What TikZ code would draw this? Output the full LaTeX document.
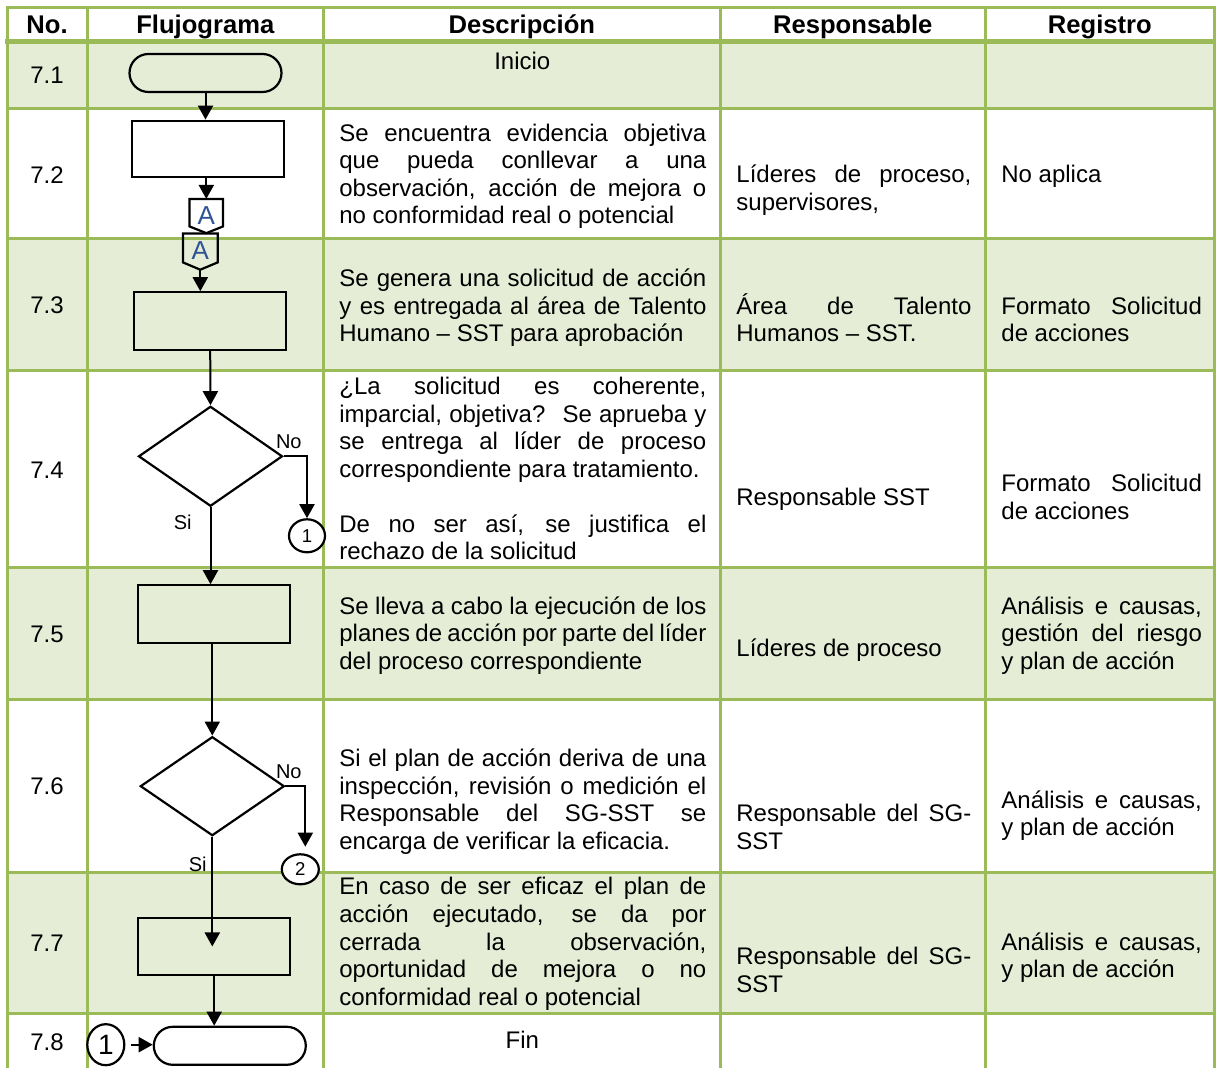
\documentclass[tikz,border=0pt]{standalone}
\usepackage{fontspec}
\setmainfont{Liberation Sans}
\usetikzlibrary{shapes.geometric,arrows.meta}
\definecolor{tabgreen}{RGB}{155,187,89}
\definecolor{rowgreen}{RGB}{229,237,214}
\definecolor{letterblue}{RGB}{47,84,150}
\newcommand\jl[2]{\makebox[#1][s]{#2}}
\newcommand\descw{183.5pt}
\newcommand\respw{117.5pt}
\newcommand\regw{100.25pt}
\begin{document}
\begin{tikzpicture}[x=0.5pt,y=-0.5pt,
	txt/.style={anchor=base west,align=left,inner sep=0pt,font=\fontsize{12}{13.75}\selectfont},
	ctr/.style={anchor=base,inner sep=0pt,font=\fontsize{12}{13.75}\selectfont},
	head/.style={anchor=base,inner sep=0pt,font=\fontsize{12.8}{15}\selectfont\bfseries},
	proc/.style={draw,rectangle,line width=1.1pt,inner sep=0pt,minimum width=76pt,minimum height=28.5pt},
	term/.style={draw,rectangle,rounded corners=9.5pt,line width=1.1pt,inner sep=0pt,minimum width=76pt,minimum height=19pt},
	dec/.style={draw,diamond,line width=1.1pt,inner sep=0pt,minimum width=72pt,minimum height=50pt},
	conn/.style={draw,ellipse,fill=white,line width=1.1pt,inner sep=0pt},
	offp/.style={rectangle,inner sep=0pt,text=letterblue,text height=12pt,text depth=0pt,font=\fontsize{13}{15}\selectfont},
	flow/.style={line width=1pt,-{Triangle[width=7.5pt,length=7pt]}},
	lbl/.style={anchor=base,inner sep=0pt,font=\fontsize{10}{12}\selectfont},
	grid/.style={tabgreen,line width=1.5pt,line cap=rect}]
\useasboundingbox (0,0) rectangle (1216,1068);
% tabla
\foreach \a/\b in {41.8/108.3,239/370.5,568/699.5,873/1013}
	\fill[rowgreen] (7,\a) rectangle (1214.5,\b);
\foreach \y in {8,108.3,239,370.5,568,699.5,873,1013}
	\draw[grid] (7,\y) -- (1214.5,\y);
\draw[grid,line width=2.5pt] (7,41.8) -- (1214.5,41.8);
\foreach \x in {7,87.3,323.3,720.3,985.3,1214.5}
	\draw[grid] (\x,8) -- (\x,1070);
\node[head] (hno) at (47,33.3) {No.};
\node[head] (hflujo) at (205.3,33.3) {Flujograma};
\node[head] (hdesc) at (521.8,33.3) {Descripción};
\node[head] (hresp) at (852.8,33.3) {Responsable};
\node[head] (hreg) at (1099.9,33.3) {Registro};
\foreach \n/\y [count=\i] in {7.1/84,7.2/183.3,7.3/313.5,7.4/478.5,7.5/642.5,7.6/794.5,7.7/951.5,7.8/1050.5}
	\node[ctr] (num\i) at (47,\y) {\n};
% descripcion (y = base de la ultima linea)
\node[ctr] (dinicio) at (522.3,70) {Inicio};
\node[txt] (desc2) at (339,224) {\jl\descw{Se encuentra evidencia objetiva}\\ \jl\descw{que pueda conllevar a una}\\ \jl\descw{observación, acción de mejora o}\\ no conformidad real o potencial};
\node[txt] (desc3) at (339,341.7) {\jl\descw{Se genera una solicitud de acción}\\ \jl\descw{y es entregada al área de Talento}\\ Humano – SST para aprobación};
\node[txt] (desc4) at (339,560) {\jl\descw{¿La solicitud es coherente,}\\ \jl\descw{imparcial, objetiva?~ Se aprueba y}\\ \jl\descw{se entrega al líder de proceso}\\ correspondiente para tratamiento.\\[13.75pt] \jl\descw{De no ser así, se justifica el}\\ rechazo de la solicitud};
\node[txt] (desc5) at (339,669.5) {\jl\descw{Se lleva a cabo la ejecución de los}\\ \jl\descw{planes de acción por parte del líder}\\ del proceso correspondiente};
\node[txt] (desc6) at (339,849.2) {\jl\descw{Si el plan de acción deriva de una}\\ \jl\descw{inspección, revisión o medición el}\\ \jl\descw{Responsable del SG-SST se}\\ encarga de verificar la eficacia.};
\node[txt] (desc7) at (339,1005) {\jl\descw{En caso de ser eficaz el plan de}\\ \jl\descw{acción ejecutado, se da por}\\ \jl\descw{cerrada la observación,}\\ \jl\descw{oportunidad de mejora o no}\\ conformidad real o potencial};
\node[ctr] (dfin) at (522.3,1048.3) {Fin};
% responsable
\node[txt] (resp2) at (736,210.2) {\jl\respw{Líderes de proceso,}\\ supervisores,};
\node[txt] (resp3) at (736,341.8) {\jl\respw{Área de Talento}\\ Humanos – SST.};
\node[txt] (resp4) at (736,505.3) {Responsable SST};
\node[txt] (resp5) at (736,656.3) {Líderes de proceso};
\node[txt] (resp6) at (736,849.2) {\jl\respw{Responsable del SG-}\\ SST};
\node[txt] (resp7) at (736,992.2) {\jl\respw{Responsable del SG-}\\ SST};
% registro
\node[txt] (reg2) at (1001,182.7) {No aplica};
\node[txt] (reg3) at (1001,341.8) {\jl\regw{Formato Solicitud}\\ de acciones};
\node[txt] (reg4) at (1001,519.5) {\jl\regw{Formato Solicitud}\\ de acciones};
\node[txt] (reg5) at (1001,669.5) {\jl\regw{Análisis e causas,}\\ \jl\regw{gestión del riesgo}\\ y plan de acción};
\node[txt] (reg6) at (1001,835.8) {\jl\regw{Análisis e causas,}\\ y plan de acción};
\node[txt] (reg7) at (1001,978) {\jl\regw{Análisis e causas,}\\ y plan de acción};
% flujograma
\node[term] (ini) at (205.5,73) {};
\node[proc,minimum height=28pt] (p72) at (208.2,148.7) {};
\node[offp,minimum width=16.35pt,minimum height=13.35pt] (a72) at (206.3,212.7) {A};
\node[offp,minimum width=17pt,minimum height=14pt] (a73) at (200.3,248) {A};
\node[proc,minimum height=28.85pt] (p73) at (210.2,321.2) {};
\node[dec] (d74) at (210.5,456.3) {};
\node[conn,minimum width=18pt,minimum height=16.5pt,font=\fontsize{9.3}{11}\selectfont] (c1) at (307,535.8) {1};
\node[proc,minimum height=28.65pt] (p75) at (213.8,614) {};
\node[dec,minimum height=49.5pt] (d76) at (212.3,786.2) {};
\node[conn,minimum width=18.5pt,minimum height=15pt,font=\fontsize{9.3}{11}\selectfont] (c2) at (300.3,869.3) {2};
\coordinate (c2in) at (305.3,846.7);
\node[proc,minimum height=28.85pt] (p77) at (214.2,946.5) {};
\node[term] (fin) at (229.8,1045.8) {};
\node[conn,minimum width=18.5pt,minimum height=20.5pt,font=\fontsize{14}{16}\selectfont] (c3) at (105.8,1044.7) {1};
\draw[line width=1.1pt] (a72.north west) -- (a72.north east) -- (a72.south east) -- ([yshift=-3.35pt]a72.south) -- (a72.south west) -- cycle;
\draw[line width=1.1pt] (a73.north west) -- (a73.north east) -- (a73.south east) -- ([yshift=-3.65pt]a73.south) -- (a73.south west) -- cycle;
\coordinate (a73tip) at ([yshift=-3.65pt]a73.south);
\draw[flow] (ini.south) -- (ini.south |- p72.north);
\draw[flow] (a72.north |- p72.south) -- (a72.north);
\draw[flow] (a73tip) -- (a73tip |- p73.north);
\draw[flow] (p73.south) -- (d74.north);
\draw[flow] (d74.east) -| (c1.north);
\draw[flow] (d74.south) -- (d74.south |- p75.north);
\draw[flow] (d76.north |- p75.south) -- (d76.north);
\draw[flow] (d76.east) -| (c2in);
\draw[flow] (d76.south) -- (d76.south |- p77.center);
\draw[flow] (p77.south) -- (p77.south |- fin.north);
\draw[flow,shorten <=3pt] (c3.east) -- (c3.east -| fin.west);
\node[lbl] (no74) at (288.8,448.3) {No};
\node[lbl] (si74) at (182.7,529.3) {Si};
\node[lbl] (no76) at (288.8,778.3) {No};
\node[lbl] (si76) at (197.7,871.7) {Si};
\end{tikzpicture}
\end{document}
